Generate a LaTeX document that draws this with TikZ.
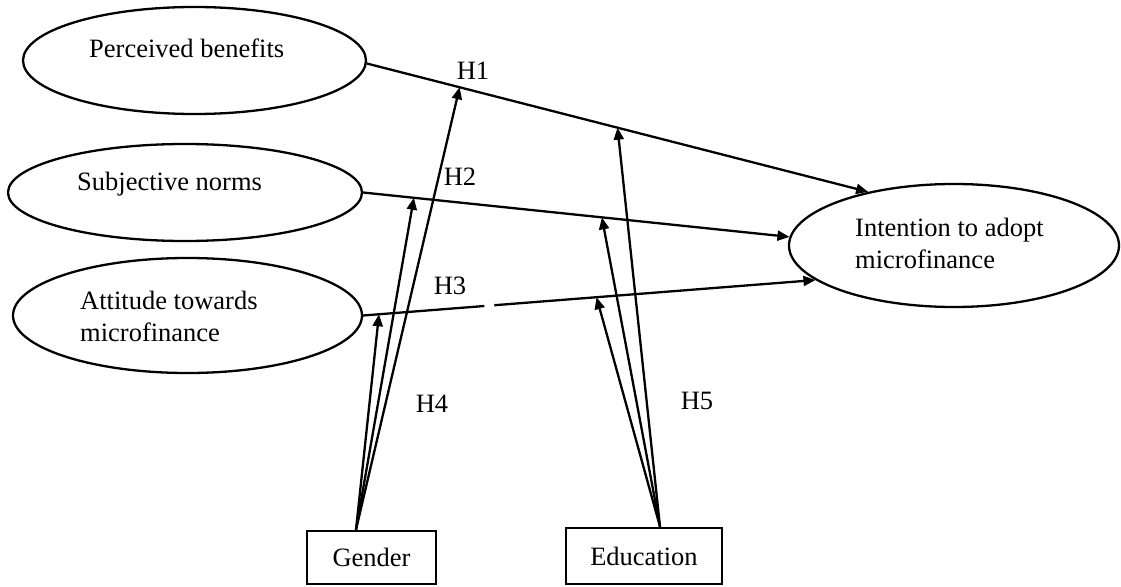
\documentclass[tikz,border=0pt]{standalone}
\usepackage{fontspec}
\setmainfont{Liberation Serif}
\usetikzlibrary{shapes.geometric,arrows.meta,calc}
\begin{document}
\begin{tikzpicture}[x=1pt,y=-1pt,
  every node/.style={font=\fontsize{26.5}{32}\selectfont},
  oval/.style={draw,ellipse,line width=2.3pt,inner sep=0pt},
  modbox/.style={draw,rectangle,line width=2.7pt,inner sep=0pt,text height=18pt,text depth=0pt},
  conn/.style={line width=2.3pt,-{Triangle[length=12pt,width=10pt]}},
  plainline/.style={line width=2.3pt},
  lab/.style={inner sep=0pt},
  hyp/.style={inner sep=0pt,anchor=base}]
\useasboundingbox (0,0) rectangle (1121,586);

% constructs
\node[oval,minimum width=343pt,minimum height=107pt] (pb) at (194.5,60.5) {};
\node[oval,minimum width=354pt,minimum height=97pt] (sn) at (185,192.5) {};
\node[oval,minimum width=349pt,minimum height=115pt] (att) at (187.5,315.5) {};
\node[oval,minimum width=330pt,minimum height=123pt] (int) at (954,245.5) {};

\node[lab,anchor=base west] (pbt) at (89,57) {Perceived benefits};
\node[lab,anchor=base west] (snt) at (77,190) {Subjective norms};
\node[lab,anchor=base west,align=left] (attt) at (80,341) {Attitude towards\\microfinance};
\node[lab,anchor=base west,align=left] (intt) at (855,268) {Intention to adopt\\microfinance};

% moderators
\node[modbox,minimum width=129pt,minimum height=53pt] (gender) at (371.5,557.5) {Gender};
\node[modbox,minimum width=156pt,minimum height=56pt] (edu) at (644,556) {Education};

% main paths
\draw[conn] (pb.-1) -- (int.148);
\draw[conn] (sn.east) -- (int.177);
\coordinate (gap1) at ($(att.east)!0.268!(int.194)$);
\coordinate (gap2) at ($(att.east)!0.29!(int.194)$);
\draw[plainline] (att.east) -- (gap1);
\draw[conn] (gap2) -- (int.194);

% moderation targets
\coordinate (h1g) at ($(pb.-1)!0.185!(int.148)$);
\coordinate (h1e) at ($(pb.-1)!0.5!(int.148)$);
\coordinate (h2g) at ($(sn.east)!0.119!(int.177)$);
\coordinate (h2e) at ($(sn.east)!0.56!(int.177)$);
\coordinate (h3g) at ($(att.east)!0.035!(int.194)$);
\coordinate (h3e) at ($(att.east)!0.516!(int.194)$);

\coordinate (gsrc) at ([xshift=-15.5pt]gender.north);
\coordinate (esrc) at ([xshift=16pt]edu.north);

\draw[conn] (gsrc) -- (h1g);
\draw[conn] (gsrc) -- (h2g);
\draw[conn] (gsrc) -- (h3g);
\draw[conn] (esrc) -- (h1e);
\draw[conn] (esrc) -- (h2e);
\draw[conn] (esrc) -- (h3e);

% hypothesis labels
\node[hyp] (H1) at (473,79) {H1};
\node[hyp] (H2) at (460,185) {H2};
\node[hyp] (H3) at (450,294) {H3};
\node[hyp] (H4) at (432,412) {H4};
\node[hyp] (H5) at (697,409) {H5};
\end{tikzpicture}
\end{document}
